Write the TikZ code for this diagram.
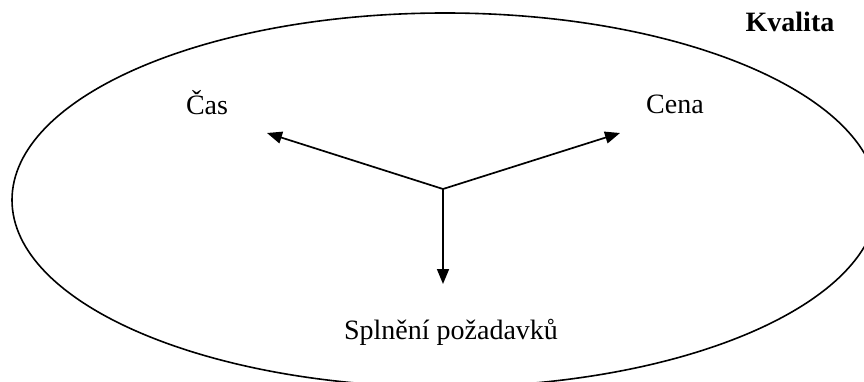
\documentclass[tikz,border=0pt]{standalone}
\usepackage{fontspec}
\setmainfont{Liberation Serif}
\usepackage{tikz}
\usetikzlibrary{arrows.meta}

\begin{document}
\begin{tikzpicture}[x=1pt, y=-1pt,
    label/.style={font=\fontsize{28}{34}\selectfont, anchor=base, inner sep=0pt},
    spoke/.style={-{Triangle[length=15pt, width=12pt]}, line width=1.7pt}]
    \useasboundingbox (0,0) rectangle (864,382);

    % Outer ellipse
    \draw[line width=1.6pt] (445,200) ellipse [x radius=433, y radius=187];

    % Labels
    \node[label, font=\fontsize{28}{34}\selectfont\bfseries] (kvalita) at (790,32) {Kvalita};
    \node[label] (cas) at (207,115) {Čas};
    \node[label] (cena) at (675,114) {Cena};
    \node[label] (splneni) at (451,339) {Splnění požadavků};

    % Arrows from the centre
    \coordinate (hub) at (443,189);
    \coordinate (tipcas) at (267,133);
    \coordinate (tipcena) at (620,133);
    \coordinate (tipsplneni) at (443,284);
    \draw[spoke] (hub) -- (tipcas);
    \draw[spoke] (hub) -- (tipcena);
    \draw[spoke] (hub) -- (tipsplneni);
\end{tikzpicture}
\end{document}
